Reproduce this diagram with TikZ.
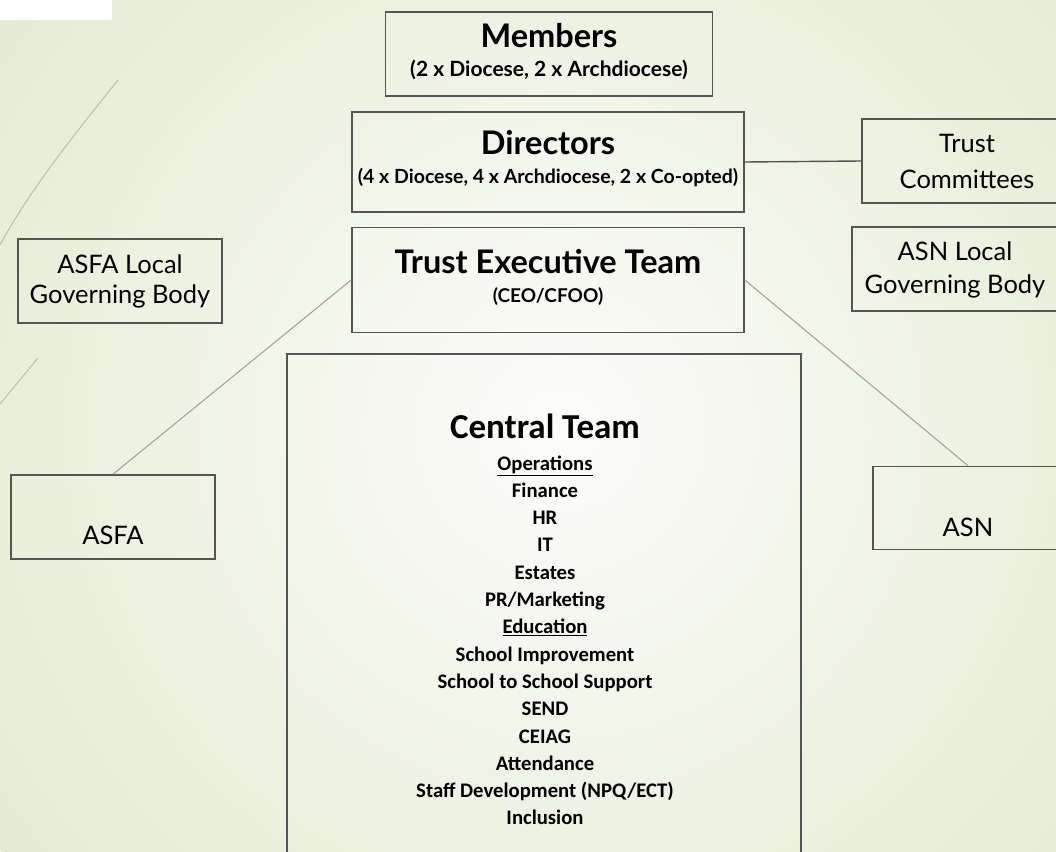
\documentclass[tikz,border=0pt]{standalone}
\usepackage{fontspec}
\setmainfont{Lato}
\newfontfamily\listfont{Carlito}
\newlength{\du}
\setlength{\du}{1pt}
\definecolor{bgouter}{rgb}{0.895,0.922,0.828}
\definecolor{bginner}{rgb}{0.988,0.990,0.978}
\definecolor{boxline}{rgb}{0.330,0.330,0.330}
\definecolor{linkline}{rgb}{0.620,0.620,0.600}
\definecolor{wispline}{rgb}{0.700,0.710,0.660}
\tikzset{
  orgbox/.style={draw=boxline, line width=1.6\du, inner sep=0pt, align=center},
  headbox/.style={orgbox, font=\fontsize{20}{29}\selectfont\bfseries},
  sidebox/.style={orgbox, font=\fontsize{25.5}{30}\selectfont},
  boxtext/.style={inner sep=0pt, align=center},
  link/.style={draw=linkline, line width=1\du},
}
\newcommand{\headline}[1]{{\fontsize{32.5}{29}\selectfont #1}}

\begin{document}
\begin{tikzpicture}
\useasboundingbox (0\du,0\du) rectangle (1056\du,-851\du);
\clip (0\du,0\du) rectangle (1056\du,-851\du);
% background
\fill[bgouter] (0\du,0\du) rectangle (1056\du,-851\du);
\shade[inner color=bginner, outer color=bgouter] (560\du,-430\du) circle (700\du);
\draw[wispline, line width=0.8\du] (118\du,-80\du) .. controls (70\du,-140\du) and (30\du,-190\du) .. (0\du,-245\du);
\draw[wispline, line width=0.8\du] (38\du,-358\du) -- (0\du,-404\du);
\fill[white] (0\du,0\du) rectangle (112\du,-20\du);

% top of the chart
\node[headbox, minimum width=327\du, minimum height=84\du, text depth=8\du] (members) at (549\du,-54\du)
  {\headline{Members}\\{\fontsize{21}{29}\selectfont (2 x Diocese, 2 x Archdiocese)}};
\node[headbox, minimum width=392\du, minimum height=100\du, text depth=10\du] (directors) at (548\du,-162\du)
  {\headline{Directors}\\{\fontsize{19.5}{29}\selectfont (4 x Diocese, 4 x Archdiocese, 2 x Co-opted)}};
\node[headbox, minimum width=392\du, minimum height=105\du, text depth=8\du] (tet) at (548\du,-280\du)
  {\headline{Trust Executive Team}\\{\fontsize{19}{27}\selectfont (CEO/CFOO)}};

% side boxes
\node[sidebox, minimum width=210\du, minimum height=84\du, font=\fontsize{25.5}{36}\selectfont] (committees) at (967\du,-161\du)
  {Trust\\Committees};
\node[sidebox, minimum width=206\du, minimum height=84\du, font=\fontsize{25.5}{33}\selectfont, text depth=3\du] (asnlgb) at (955\du,-269\du)
  {ASN Local\\Governing Body};
\node[sidebox, minimum width=204\du, minimum height=84\du] (asfalgb) at (120\du,-281\du)
  {ASFA Local\\Governing Body};

% academies
\node[orgbox, minimum width=204\du, minimum height=84\du] (asfa) at (113\du,-517\du) {};
\node[boxtext, font=\fontsize{25.5}{30}\selectfont] (asfatext) at ([yshift=-18\du]asfa.center) {ASFA};
\node[orgbox, minimum width=190\du, minimum height=83\du] (asn) at (968\du,-508\du) {};
\node[boxtext, font=\fontsize{25.5}{30}\selectfont] (asntext) at ([yshift=-19\du]asn.center) {ASN};

% central team
\node[orgbox, minimum width=514\du, minimum height=560\du, anchor=north] (central) at (544\du,-353\du) {};
\node[boxtext, anchor=north, font=\listfont\bfseries\fontsize{20.7}{27.3}\selectfont] (ctlist) at (545\du,-414\du)
  {{\fontsize{35}{27}\selectfont Central Team}\\[4\du]\underline{Operations}\\Finance\\HR\\IT\\Estates\\PR/Marketing\\
   \underline{Education}\\School Improvement\\School to School Support\\SEND\\CEIAG\\Attendance\\
   Staff Development (NPQ/ECT)\\Inclusion};

% connectors
\draw[boxline, line width=1.4\du] (directors.east) -- (committees.west);
\draw[link] (tet.west) -- (asfa.north);
\draw[link] (tet.east) -- (asn.north);
\end{tikzpicture}
\end{document}
